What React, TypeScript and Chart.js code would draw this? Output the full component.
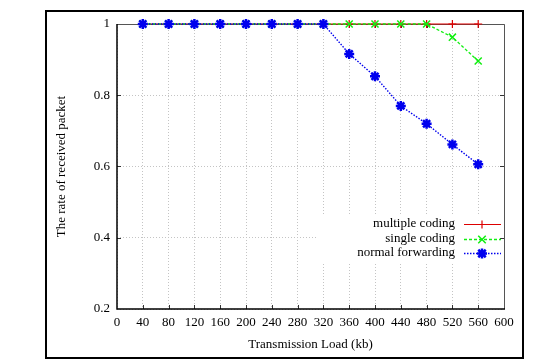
import React, { useEffect, useRef } from 'react';
import { Chart, registerables } from 'chart.js';

Chart.register(...registerables);

// ---- data ----
const loads = [40, 80, 120, 160, 200, 240, 280, 320, 360, 400, 440, 480, 520, 560];
const multipleCoding = [1, 1, 1, 1, 1, 1, 1, 1, 1, 1, 1, 1, 1, 1];
const singleCoding = [1, 1, 1, 1, 1, 1, 1, 1, 1, 1, 1, 1, 0.963, 0.896];
const normalForwarding = [1, 1, 1, 1, 1, 1, 1, 1, 0.916, 0.853, 0.77, 0.72, 0.662, 0.606];
const seriesLabels = ['multiple coding', 'single coding', 'normal forwarding'];
const xMin = 0;
const xMax = 600;
const xStep = 40;
const yMin = 0.2;
const yMax = 1;
const yStep = 0.2;
const xTitle = 'Transmission Load (kb)';
const yTitle = 'The rate of received packet';

const FONT = '"Liberation Serif", "DejaVu Serif", serif';

function drawMarker(ctx: CanvasRenderingContext2D, style: string, x: number, y: number, r: number) {
  ctx.beginPath();
  if (style === 'cross' || style === 'star') {
    ctx.moveTo(x - r, y);
    ctx.lineTo(x + r, y);
    ctx.moveTo(x, y - r);
    ctx.lineTo(x, y + r);
  }
  if (style === 'crossRot' || style === 'star') {
    const d = r * 0.75;
    ctx.moveTo(x - d, y - d);
    ctx.lineTo(x + d, y + d);
    ctx.moveTo(x - d, y + d);
    ctx.lineTo(x + d, y - d);
  }
  ctx.stroke();
}

const framePlugin = {
  id: 'gnuplotFrame',
  beforeDraw(chart: any) {
    const ctx = chart.ctx as CanvasRenderingContext2D;
    ctx.save();
    ctx.fillStyle = '#ffffff';
    ctx.fillRect(0, 0, chart.width, chart.height);
    ctx.strokeStyle = '#000000';
    ctx.lineWidth = 2;
    ctx.strokeRect(46, 11, 477, 347);
    ctx.restore();
  },
  beforeDatasetsDraw(chart: any) {
    const ctx = chart.ctx as CanvasRenderingContext2D;
    const { left, right, top, bottom } = chart.chartArea;
    const xs = chart.scales.x;
    const ys = chart.scales.y;
    ctx.save();
    // legend box (blank background over grid)
    ctx.fillStyle = '#ffffff';
    ctx.fillRect(318, 216, right - 318, 46);
    // ticks
    ctx.strokeStyle = '#333333';
    ctx.lineWidth = 1;
    ctx.beginPath();
    for (let v = xMin + xStep; v < xMax; v += xStep) {
      const px = Math.round(xs.getPixelForValue(v)) + 0.5;
      ctx.moveTo(px, bottom);
      ctx.lineTo(px, bottom - 4);
      ctx.moveTo(px, top);
      ctx.lineTo(px, top + 4);
    }
    for (let v = yMin + yStep; v < yMax - 1e-9; v += yStep) {
      const py = Math.round(ys.getPixelForValue(v)) + 0.5;
      ctx.moveTo(left, py);
      ctx.lineTo(left + 4, py);
      ctx.moveTo(right, py);
      ctx.lineTo(right - 4, py);
    }
    ctx.stroke();
    // frame: top/right gray, left/bottom black
    ctx.strokeStyle = '#555555';
    ctx.lineWidth = 1;
    ctx.beginPath();
    ctx.moveTo(left, top + 0.5);
    ctx.lineTo(right + 0.5, top + 0.5);
    ctx.lineTo(right + 0.5, bottom);
    ctx.stroke();
    ctx.strokeStyle = '#000000';
    ctx.lineWidth = 1.5;
    ctx.beginPath();
    ctx.moveTo(left, top);
    ctx.lineTo(left, bottom);
    ctx.lineTo(right + 1, bottom);
    ctx.stroke();
    ctx.restore();
  },
  afterDatasetsDraw(chart: any) {
    const ctx = chart.ctx as CanvasRenderingContext2D;
    ctx.save();
    ctx.font = '13px ' + FONT;
    ctx.textAlign = 'right';
    ctx.textBaseline = 'middle';
    chart.data.datasets.forEach((ds: any, i: number) => {
      const y = 224 + i * 14.5;
      ctx.fillStyle = '#000000';
      ctx.fillText(ds.label, 455, y);
      ctx.strokeStyle = ds.borderColor;
      ctx.lineWidth = ds.borderWidth;
      ctx.setLineDash(ds.borderDash || []);
      ctx.beginPath();
      ctx.moveTo(464, Math.round(y) + 0.5);
      ctx.lineTo(501, Math.round(y) + 0.5);
      ctx.stroke();
      ctx.setLineDash([]);
      ctx.lineWidth = ds.pointBorderWidth;
      drawMarker(ctx, ds.pointStyle, 482, Math.round(y) + 0.5, ds.pointRadius);
    });
    ctx.restore();
  },
};

export default function App() {
  const ref = useRef<HTMLCanvasElement | null>(null);
  useEffect(() => {
    if (!ref.current) return;
    const mk = (vals: number[]) => loads.map((x, i) => ({ x, y: vals[i] }));
    const chart = new Chart(ref.current, {
      type: 'line',
      data: {
        datasets: [
          {
            label: seriesLabels[0],
            data: mk(multipleCoding),
            borderColor: '#dd0000',
            backgroundColor: '#dd0000',
            borderWidth: 1.2,
            pointStyle: 'cross',
            pointRadius: 4,
            pointBorderWidth: 1.2,
            pointBorderColor: '#dd0000',
            fill: false,
            tension: 0,
            clip: false,
            order: 2,
          } as any,
          {
            label: seriesLabels[1],
            data: mk(singleCoding),
            borderColor: '#11ee11',
            backgroundColor: '#11ee11',
            borderWidth: 1.3,
            borderDash: [3, 2],
            pointStyle: 'crossRot',
            pointRadius: 5,
            pointBorderWidth: 1.5,
            pointBorderColor: '#11ee11',
            fill: false,
            tension: 0,
            clip: false,
            order: 1,
          } as any,
          {
            label: seriesLabels[2],
            data: mk(normalForwarding),
            borderColor: '#0000ee',
            backgroundColor: '#0000ee',
            borderWidth: 1.4,
            borderDash: [1.5, 1.5],
            pointStyle: 'star',
            pointRadius: 5,
            pointBorderWidth: 2.5,
            pointBorderColor: '#0000ee',
            fill: false,
            tension: 0,
            clip: false,
            order: 0,
          } as any,
        ],
      },
      options: {
        responsive: false,
        animation: false,
        events: [],
        layout: { padding: { top: 24, right: 48, left: 0, bottom: 0 } },
        plugins: {
          legend: { display: false },
          tooltip: { enabled: false },
          title: { display: false },
        },
        scales: {
          x: {
            type: 'linear',
            min: xMin,
            max: xMax,
            afterFit: (s: any) => {
              s.height = 53;
            },
            ticks: {
              stepSize: xStep,
              autoSkip: false,
              maxRotation: 0,
              padding: 6,
              color: '#000000',
              font: { family: FONT, size: 13 },
            },
            grid: { color: '#c4c4c4', lineWidth: 1, drawTicks: false },
            border: { display: false, dash: [1, 2] },
            title: {
              display: true,
              text: xTitle,
              color: '#000000',
              font: { family: FONT, size: 13 },
              padding: { top: 0, bottom: 10 },
            },
          },
          y: {
            type: 'linear',
            min: yMin,
            max: yMax,
            afterFit: (s: any) => {
              s.width = 117;
            },
            ticks: {
              stepSize: yStep,
              padding: 7,
              color: '#000000',
              font: { family: FONT, size: 13 },
              callback: (v: any) => String(Number(Number(v).toFixed(1))),
            },
            grid: { color: '#c4c4c4', lineWidth: 1, drawTicks: false },
            border: { display: false, dash: [1, 2] },
            title: {
              display: true,
              text: yTitle,
              color: '#000000',
              font: { family: FONT, size: 13 },
              padding: { top: 54, bottom: 0 },
            },
          },
        },
      },
      plugins: [framePlugin],
    });
    return () => chart.destroy();
  }, []);
  return (
    <div style={{ position: 'fixed', left: 0, top: 0, width: 552, height: 362, background: '#fff' }}>
      <canvas ref={ref} width={552} height={362} style={{ display: 'block' }} />
    </div>
  );
}
